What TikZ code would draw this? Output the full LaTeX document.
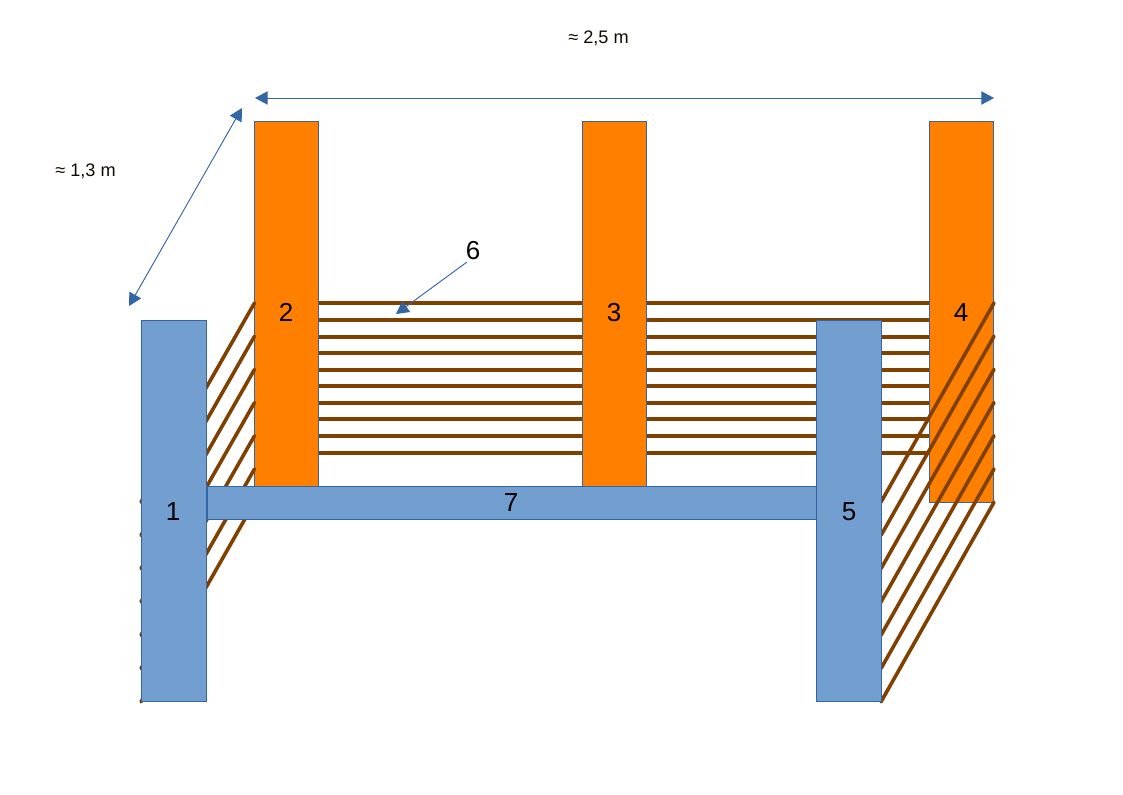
\documentclass[tikz,border=0pt]{standalone}
\usepackage{fontspec}
\setmainfont{Liberation Sans}
\usetikzlibrary{arrows.meta}
\definecolor{postorange}{HTML}{FF8000}
\definecolor{postblue}{HTML}{729FCF}
\definecolor{edgeblue}{HTML}{3465A4}
\definecolor{wirebrown}{HTML}{7F4000}
\tikzset{
  x=0.75pt,y=-0.75pt,
  backpost/.style={draw=edgeblue,fill=postorange,line width=0.75pt,inner sep=0pt,outer sep=0pt,minimum width=48pt},
  frontpost/.style={draw=edgeblue,fill=postblue,line width=0.75pt,inner sep=0pt,outer sep=0pt,minimum width=48.9pt,minimum height=285.75pt},
  beam/.style={draw=edgeblue,fill=postblue,line width=0.75pt,inner sep=0pt,outer sep=0pt},
  wire/.style={draw=wirebrown,line width=2.7pt,line cap=round},
  hwire/.style={draw=wirebrown,line width=2.8pt},
  dim/.style={draw=edgeblue,line width=0.7pt,{Triangle[length=9.5pt,width=10pt]}-{Triangle[length=9.5pt,width=10pt]}},
  lead/.style={draw=edgeblue,line width=0.7pt,-{Triangle[length=9.5pt,width=10pt]}},
  numlabel/.style={font=\fontsize{19.5}{23}\selectfont,text=black,inner sep=0pt},
  dimlabel/.style={font=\fontsize{13.6}{16}\selectfont,text=black!85!wirebrown,inner sep=0pt}
}
\begin{document}
\begin{tikzpicture}
\useasboundingbox (0,0) rectangle (1123,794);
% horizontal wires, behind the back posts
\foreach \i/\y in {0/303,1/320,2/337,3/353,4/370,5/386,6/403,7/419,8/436,9/453}{
  \coordinate (hl\i) at (286,\y);
  \coordinate (hr\i) at (961,\y);
  \draw[hwire] (hl\i) -- (hr\i);
}
% back posts
\node[backpost,minimum height=274.5pt] (p2) at (286,304) {};
\node[backpost,minimum height=274.5pt] (p3) at (614.25,304) {};
\node[backpost,minimum height=285.75pt] (p4) at (961.5,311.5) {};
% side wires
\foreach \i in {0,...,6}{
  \coordinate (lb\i) at (254.5,303+33.2*\i);
  \coordinate (lf\i) at (141,502+33.3*\i);
  \coordinate (rb\i) at (994,303+33.2*\i);
  \coordinate (rf\i) at (881,502+33.3*\i);
  \draw[wire] (lb\i) -- (lf\i);
  \draw[wire] (rb\i) -- (rf\i);
}
% beam and front posts
\node[beam,minimum width=456.75pt,minimum height=24.6pt] (p7) at (511.5,502.9) {};
\node[frontpost] (p1) at (174,510.5) {};
\node[frontpost] (p5) at (849.1,510.5) {};
% numbers
\node[numlabel] (n1) at (173,512) {1};
\node[numlabel] (n2) at (286,312) {2};
\node[numlabel] (n3) at (614,312.5) {3};
\node[numlabel] (n4) at (961,312.5) {4};
\node[numlabel] (n5) at (849,512) {5};
\node[numlabel] (n6) at (473,250.5) {6};
\node[numlabel] (n7) at (511,503) {7};
% dimensions
\node[dimlabel] (d1) at (598.5,38) {≈ 2,5 m};
\node[dimlabel] (d2) at (85.5,171) {≈ 1,3 m};
\coordinate (al) at (255,98);
\coordinate (ar) at (994,98);
\coordinate (bl) at (129,306);
\coordinate (bu) at (242,108);
\coordinate (c6) at (467,262);
\coordinate (t6) at (396,314);
\draw[dim] (al) -- (ar);
\draw[dim] (bl) -- (bu);
\draw[lead] (c6) -- (t6);
\end{tikzpicture}
\end{document}
